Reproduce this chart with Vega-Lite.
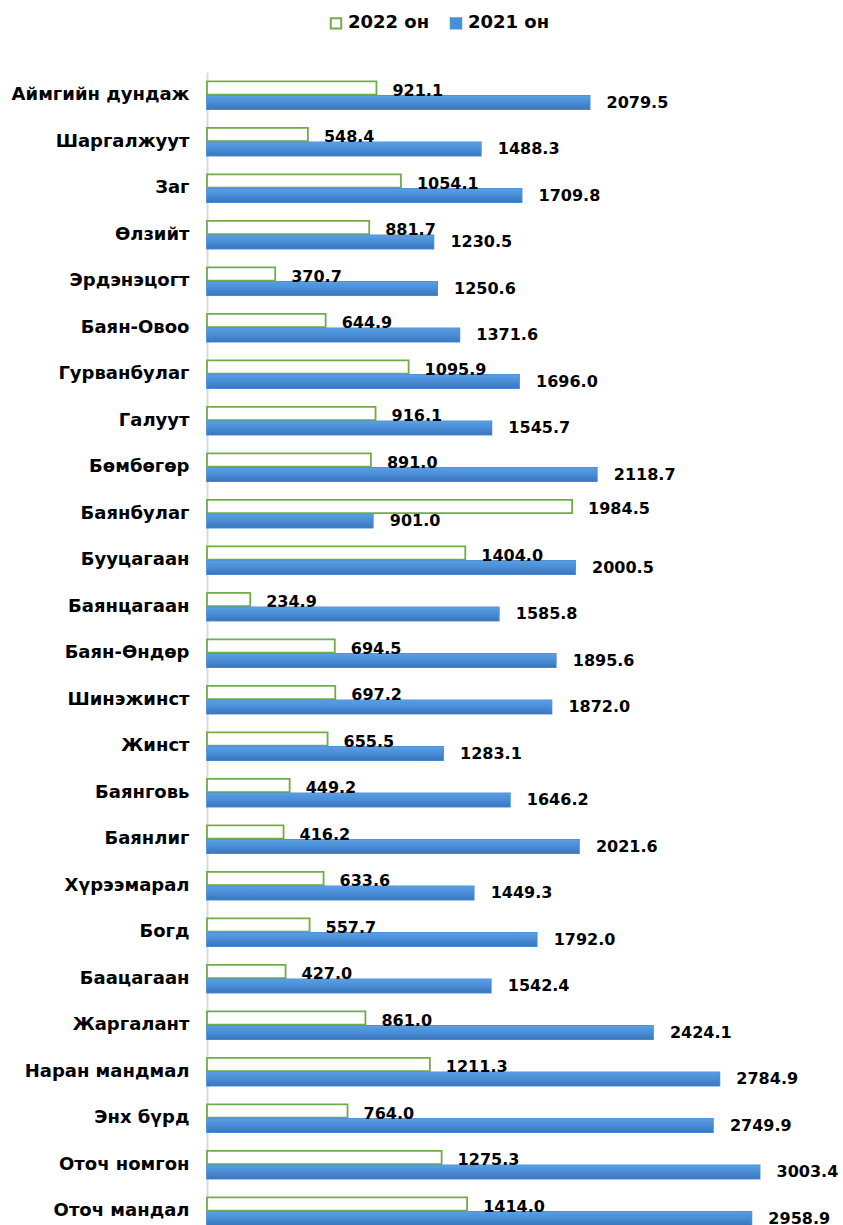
{
  "$schema": "https://vega.github.io/schema/vega-lite/v6.json",
  "autosize": {"type": "none"},
  "width": 636,
  "height": 1162.5,
  "padding": {"left": 207, "top": 72, "right": 0, "bottom": 0},
  "background": "white",
  "data": {"values": [
    {"soum": "Аймгийн дундаж", "series": "2022 он", "value": 921.1},
    {"soum": "Аймгийн дундаж", "series": "2021 он", "value": 2079.5},
    {"soum": "Шаргалжуут", "series": "2022 он", "value": 548.4},
    {"soum": "Шаргалжуут", "series": "2021 он", "value": 1488.3},
    {"soum": "Заг", "series": "2022 он", "value": 1054.1},
    {"soum": "Заг", "series": "2021 он", "value": 1709.8},
    {"soum": "Өлзийт", "series": "2022 он", "value": 881.7},
    {"soum": "Өлзийт", "series": "2021 он", "value": 1230.5},
    {"soum": "Эрдэнэцогт", "series": "2022 он", "value": 370.7},
    {"soum": "Эрдэнэцогт", "series": "2021 он", "value": 1250.6},
    {"soum": "Баян-Овоо", "series": "2022 он", "value": 644.9},
    {"soum": "Баян-Овоо", "series": "2021 он", "value": 1371.6},
    {"soum": "Гурванбулаг", "series": "2022 он", "value": 1095.9},
    {"soum": "Гурванбулаг", "series": "2021 он", "value": 1696.0},
    {"soum": "Галуут", "series": "2022 он", "value": 916.1},
    {"soum": "Галуут", "series": "2021 он", "value": 1545.7},
    {"soum": "Бөмбөгөр", "series": "2022 он", "value": 891.0},
    {"soum": "Бөмбөгөр", "series": "2021 он", "value": 2118.7},
    {"soum": "Баянбулаг", "series": "2022 он", "value": 1984.5},
    {"soum": "Баянбулаг", "series": "2021 он", "value": 901.0},
    {"soum": "Бууцагаан", "series": "2022 он", "value": 1404.0},
    {"soum": "Бууцагаан", "series": "2021 он", "value": 2000.5},
    {"soum": "Баянцагаан", "series": "2022 он", "value": 234.9},
    {"soum": "Баянцагаан", "series": "2021 он", "value": 1585.8},
    {"soum": "Баян-Өндөр", "series": "2022 он", "value": 694.5},
    {"soum": "Баян-Өндөр", "series": "2021 он", "value": 1895.6},
    {"soum": "Шинэжинст", "series": "2022 он", "value": 697.2},
    {"soum": "Шинэжинст", "series": "2021 он", "value": 1872.0},
    {"soum": "Жинст", "series": "2022 он", "value": 655.5},
    {"soum": "Жинст", "series": "2021 он", "value": 1283.1},
    {"soum": "Баянговь", "series": "2022 он", "value": 449.2},
    {"soum": "Баянговь", "series": "2021 он", "value": 1646.2},
    {"soum": "Баянлиг", "series": "2022 он", "value": 416.2},
    {"soum": "Баянлиг", "series": "2021 он", "value": 2021.6},
    {"soum": "Хүрээмарал", "series": "2022 он", "value": 633.6},
    {"soum": "Хүрээмарал", "series": "2021 он", "value": 1449.3},
    {"soum": "Богд", "series": "2022 он", "value": 557.7},
    {"soum": "Богд", "series": "2021 он", "value": 1792.0},
    {"soum": "Баацагаан", "series": "2022 он", "value": 427.0},
    {"soum": "Баацагаан", "series": "2021 он", "value": 1542.4},
    {"soum": "Жаргалант", "series": "2022 он", "value": 861.0},
    {"soum": "Жаргалант", "series": "2021 он", "value": 2424.1},
    {"soum": "Наран мандмал", "series": "2022 он", "value": 1211.3},
    {"soum": "Наран мандмал", "series": "2021 он", "value": 2784.9},
    {"soum": "Энх бүрд", "series": "2022 он", "value": 764.0},
    {"soum": "Энх бүрд", "series": "2021 он", "value": 2749.9},
    {"soum": "Оточ номгон", "series": "2022 он", "value": 1275.3},
    {"soum": "Оточ номгон", "series": "2021 он", "value": 3003.4},
    {"soum": "Оточ мандал", "series": "2022 он", "value": 1414.0},
    {"soum": "Оточ мандал", "series": "2021 он", "value": 2958.9}
  ]},
  "encoding": {
    "y": {
      "field": "soum", "type": "nominal", "sort": null,
      "scale": {"paddingInner": 0.4, "paddingOuter": 0.2},
      "axis": {
        "title": null, "ticks": false, "grid": false,
        "domainColor": "#d9d9d9", "domainWidth": 2,
        "labelFont": "DejaVu Sans", "labelFontWeight": "bold", "labelFontSize": 18,
        "labelColor": "#000000", "labelPadding": 18, "labelLimit": 300
      }
    },
    "yOffset": {
      "field": "series", "type": "nominal", "sort": ["2022 он", "2021 он"],
      "scale": {"domain": ["2022 он", "2021 он"], "paddingInner": 0.08}
    },
    "x": {
      "field": "value", "type": "quantitative",
      "scale": {"domain": [0, 3457], "nice": false},
      "axis": null
    }
  },
  "layer": [
    {
      "mark": {"type": "bar", "strokeWidth": 1.8},
      "encoding": {
        "fill": {
          "field": "series", "type": "nominal",
          "scale": {"domain": ["2022 он", "2021 он"], "range": ["#ffffff", "#4a8fd8"]},
          "legend": {
            "orient": "none", "legendX": 120, "legendY": -58, "direction": "horizontal",
            "title": null, "symbolType": "square", "symbolSize": 110, "symbolStrokeWidth": 2,
            "labelFont": "DejaVu Sans", "labelFontWeight": "bold", "labelFontSize": 18,
            "labelColor": "#000000", "columnPadding": 16, "labelOffset": 3
          }
        },
        "stroke": {
          "field": "series", "type": "nominal",
          "scale": {"domain": ["2022 он", "2021 он"], "range": ["#70ad47", "#4a8fd8"]},
          "legend": {
            "orient": "none", "legendX": 120, "legendY": -58, "direction": "horizontal",
            "title": null, "symbolType": "square", "symbolSize": 110, "symbolStrokeWidth": 2,
            "labelFont": "DejaVu Sans", "labelFontWeight": "bold", "labelFontSize": 18,
            "labelColor": "#000000", "columnPadding": 16, "labelOffset": 3
          }
        }
      }
    },
    {
      "transform": [{"filter": "datum.series == '2021 он'"}],
      "mark": {
        "type": "bar",
        "fill": {
          "gradient": "linear", "x1": 0, "y1": 0, "x2": 0, "y2": 1,
          "stops": [
            {"offset": 0, "color": "#5a9ee2"},
            {"offset": 0.45, "color": "#4a8fd8"},
            {"offset": 1, "color": "#3a76bd"}
          ]
        }
      }
    },
    {
      "transform": [{"filter": "datum.series == '2022 он'"}],
      "mark": {"type": "text", "align": "left", "baseline": "middle", "dx": 16, "dy": 3,
               "font": "DejaVu Sans", "fontWeight": "bold", "fontSize": 16, "color": "#000000"},
      "encoding": {"text": {"field": "value", "type": "quantitative", "format": ".1f"}}
    },
    {
      "transform": [{"filter": "datum.series == '2021 он'"}],
      "mark": {"type": "text", "align": "left", "baseline": "middle", "dx": 17, "dy": 0,
               "font": "DejaVu Sans", "fontWeight": "bold", "fontSize": 16, "color": "#000000"},
      "encoding": {"text": {"field": "value", "type": "quantitative", "format": ".1f"}}
    }
  ],
  "config": {"view": {"stroke": null}}
}
